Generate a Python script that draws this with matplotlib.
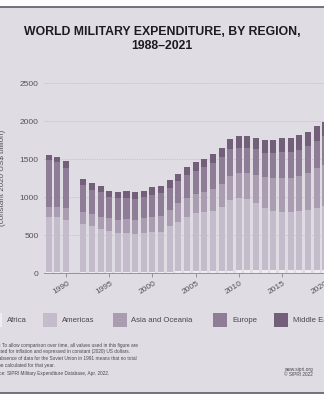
import matplotlib
matplotlib.use("Agg")
import matplotlib.pyplot as plt
import matplotlib.transforms as mtransforms
from matplotlib.patches import Rectangle
from matplotlib.lines import Line2D
import numpy as np

# SIPRI world military expenditure by region, constant 2020 US$ bn (no 1991 total)
years = [1988, 1989, 1990] + list(range(1992, 2022))
africa = [18, 18, 17, 16, 15, 15, 14, 14, 14, 15, 16, 17, 18, 19, 20, 21, 22,
          23, 25, 28, 32, 34, 36, 38, 40, 42, 40, 39, 38, 39, 41, 43, 45]
americas = [715, 715, 685, 629, 599, 564, 542, 512, 512, 497, 505, 517, 526,
            604, 655, 720, 763, 775, 795, 845, 929, 957, 933, 879, 820, 778,
            767, 768, 778, 790, 819, 837, 845]
asia_oceania = [133, 133, 150, 163, 163, 154, 164, 176, 185, 186, 203, 199,
                206, 206, 242, 241, 254, 272, 281, 298, 315, 329, 351, 372,
                399, 426, 439, 439, 460, 482, 517, 540, 560]
europe = [627, 596, 530, 345, 318, 331, 278, 283, 274, 278, 274, 296, 307,
          294, 294, 307, 307, 320, 342, 351, 351, 329, 329, 338, 324, 337,
          350, 350, 342, 360, 364, 380, 400]
middle_east = [66, 66, 89, 79, 89, 76, 80, 79, 93, 84, 80, 102, 88, 96, 96,
               110, 110, 110, 118, 127, 141, 149, 149, 154, 167, 167, 185, 185,
               198, 189, 193, 190, 180]

regions = ["Africa", "Americas", "Asia and Oceania", "Europe", "Middle East"]
colors = ["#efedf2", "#c5bccb", "#aa9db2", "#8f7c97", "#735f79"]
series = [africa, americas, asia_oceania, europe, middle_east]

BG = "#dfdce4"
W, H = 324, 400

plt.rcParams["font.family"] = ["Liberation Sans", "DejaVu Sans"]
fig = plt.figure(figsize=(W / 100, H / 100), dpi=100, facecolor="white")


def fx(px):
    return px / W


def fy(py):
    return 1 - py / H


# panel background with rules top and bottom
fig.patches.append(Rectangle((0, fy(393)), 1, fy(7) - fy(393), transform=fig.transFigure,
                             facecolor=BG, edgecolor="none", zorder=-10))
for yy in (7, 393):
    fig.lines.append(Line2D([0, 1], [fy(yy), fy(yy)], transform=fig.transFigure,
                            color="#6d6472", lw=1.3))

fig.text(0.5, fy(32), "WORLD MILITARY EXPENDITURE, BY REGION,", ha="center", va="center",
         fontsize=8.8, fontweight="bold", color="#1e1b20")
fig.text(0.5, fy(46), "1988\u20132021", ha="center", va="center",
         fontsize=8.8, fontweight="bold", color="#1e1b20")

# axes deliberately run past the right edge of the figure
x0, x1 = 1987.45, 2021.6
ppy = 8.64
ax_left = 44
ax_w = (x1 - x0) * ppy
y_top = 2550
ax_bottom = 273
ax_h = y_top * 0.076
ax = fig.add_axes([fx(ax_left), fy(ax_bottom), fx(ax_w), ax_h / H])
ax.set_facecolor("none")

bottom = np.zeros(len(years))
for vals, col, name in zip(series, colors, regions):
    ax.bar(years, vals, width=0.7, bottom=bottom, color=col, label=name, zorder=3)
    bottom += np.array(vals)

ax.set_xlim(x0, x1)
ax.set_ylim(0, y_top)
ax.set_yticks([0, 500, 1000, 1500, 2000, 2500])
ax.yaxis.grid(True, color="#c3bfc8", lw=0.6, ls=(0, (1.5, 1.5)), zorder=0)
ax.tick_params(axis="y", length=0, pad=4, labelsize=6, labelcolor="#55525a")
ax.set_xticks(range(1990, 2025, 5))
ax.tick_params(axis="x", length=3, width=0.6, color="#8a868d", pad=2,
               labelsize=6, labelcolor="#55525a")
for lab in ax.get_xticklabels():
    lab.set_rotation(32)
    lab.set_transform(lab.get_transform() + mtransforms.ScaledTranslation(
        -0.05, 0, fig.dpi_scale_trans))
for s in ("left", "right", "top"):
    ax.spines[s].set_visible(False)
ax.spines["bottom"].set_color("#8a868d")
ax.spines["bottom"].set_linewidth(0.6)

fig.text(fx(-4), fy(178), "Military expenditure", rotation=90, ha="center", va="center",
         fontsize=5.8, color="#55525a")
fig.text(fx(3), fy(178), "(constant 2020 US$ billion)", rotation=90, ha="center",
         va="center", fontsize=5.8, color="#55525a")

# legend laid out by hand so it can spill past both edges
patch_x = [-12, 43, 113, 213, 274]
text_x = [7, 62, 131, 232, 293]
for px, tx, col, name in zip(patch_x, text_x, colors, regions):
    fig.patches.append(Rectangle((fx(px), fy(327)), fx(13.5), 14 / H,
                                 transform=fig.transFigure, facecolor=col,
                                 edgecolor="none"))
    fig.text(fx(tx), fy(320.5), name, ha="left", va="center", fontsize=5.6,
             color="#4a474d")

note = ("Note: To allow comparison over time, all values used in this figure are\n"
        "adjusted for inflation and expressed in constant (2020) US dollars.\n"
        "The absence of data for the Soviet Union in 1991 means that no total\n"
        "can be calculated for that year.")
fig.text(fx(-11), fy(342.5), note, ha="left", va="top", fontsize=3.4,
         color="#4a474d", linespacing=1.45)
fig.text(fx(-11), fy(373), "Source: SIPRI Military Expenditure Database, Apr. 2022.",
         ha="left", va="center", fontsize=3.4, color="#4a474d")
fig.text(fx(313), fy(369), "www.sipri.org", ha="right", va="center", fontsize=3.4,
         color="#4a474d")
fig.text(fx(313), fy(375), "\u00a9 SIPRI 2022", ha="right", va="center", fontsize=3.4,
         color="#4a474d")

fig.savefig("out.png", dpi=100, facecolor="white")
